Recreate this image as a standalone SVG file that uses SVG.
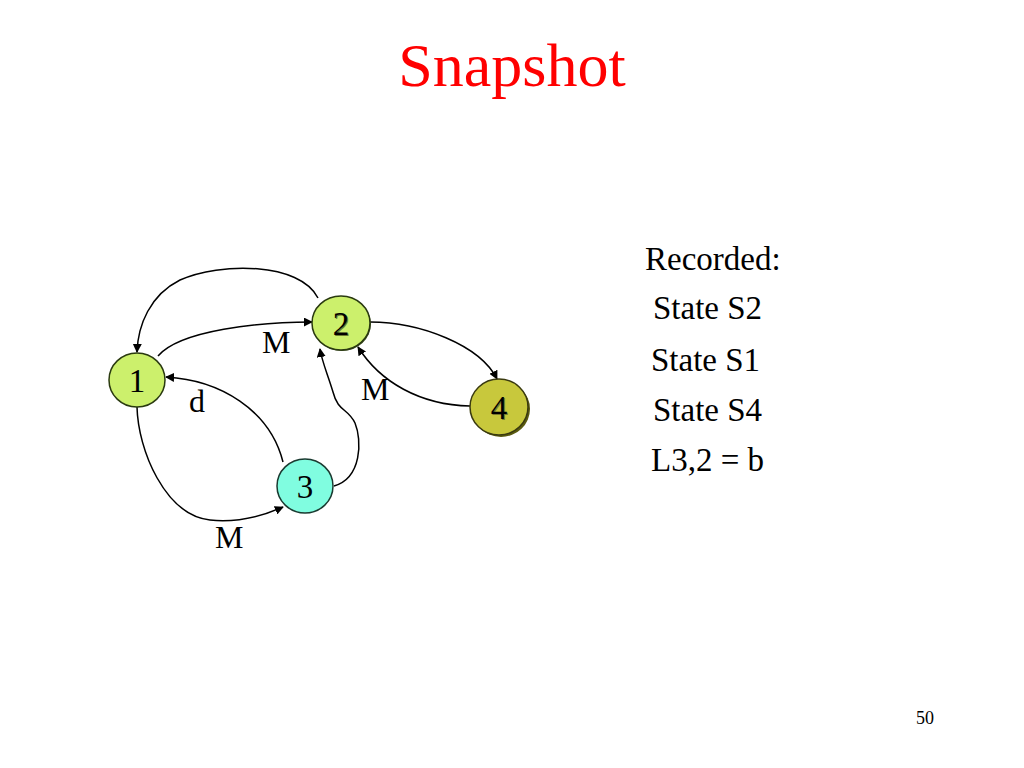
<svg xmlns="http://www.w3.org/2000/svg" width="1024" height="768" viewBox="0 0 1024 768">
<defs>
<marker id="ah" viewBox="0 0 10 10" refX="9" refY="5" markerWidth="9" markerHeight="9" markerUnits="userSpaceOnUse" orient="auto">
<path d="M0,0 L10,5 L0,10 z" fill="#000"/>
</marker>
<style>
text{font-family:"Liberation Serif","Times New Roman",serif;fill:#000}
.lbl{font-size:32px}
.side{font-size:33px}
.num{font-size:33px;text-anchor:middle}
.edge{fill:none;stroke:#000;stroke-width:1.5;marker-end:url(#ah)}
.node{stroke:#2a3a10;stroke-width:1.5}
</style>
</defs>
<rect width="1024" height="768" fill="#fff"/>
<text x="512" y="86" font-size="62" text-anchor="middle" style="fill:#ff0000">Snapshot</text>

<g id="connectors">
<path class="edge" d="M318,298 C300,262 220,262 180,280 C150,295 138,325 137,352"/>
<path class="edge" d="M158,356 C180,330 260,322 312,322"/>
<path class="edge" d="M370,322 C420,322 480,345 497,379"/>
<path class="edge" d="M470,406 C420,405 380,382 358,347"/>
<path class="edge" d="M283,462 C270,410 220,380 166,377"/>
<path class="edge" d="M334,486 C362,478 362,440 355,423 C348,408 338,412 333,392 C328,375 322,362 320,349"/>
<path class="edge" d="M137,407 C138,450 165,515 210,520 C240,523 265,515 283,507"/>
</g>

<g id="node1">
<ellipse class="node" cx="137" cy="380" rx="28" ry="27" fill="#ccf06c"/>
<text class="num" x="137" y="392">1</text>
</g>
<g id="node2">
<ellipse cx="342" cy="324" rx="29" ry="27" fill="#3a4a20"/>
<ellipse class="node" cx="341" cy="323" rx="29" ry="27" fill="#ccf06c"/>
<text class="num" x="342" y="336" style="fill:#6a7a30">2</text>
<text class="num" x="341" y="335">2</text>
</g>
<g id="node3">
<ellipse class="node" cx="305" cy="486" rx="28" ry="27" fill="#80fde0" style="stroke:#1a3a30"/>
<text class="num" x="305" y="498">3</text>
</g>
<g id="node4">
<ellipse cx="501" cy="409" rx="29" ry="28" fill="#5a5a10"/>
<ellipse class="node" cx="499" cy="407" rx="29" ry="28" fill="#c8c83c" style="stroke:#3a3a10"/>
<text class="num" x="500" y="420" style="fill:#7a7a30">4</text>
<text class="num" x="499" y="419">4</text>
</g>

<text class="lbl" x="262" y="353">M</text>
<text class="lbl" x="361" y="400">M</text>
<text class="lbl" x="189" y="412">d</text>
<text class="lbl" x="215" y="548">M</text>

<text class="side" x="645" y="270">Recorded:</text>
<text class="side" x="653" y="319">State S2</text>
<text class="side" x="651" y="371">State S1</text>
<text class="side" x="653" y="421">State S4</text>
<text class="side" x="651" y="471">L3,2 = b</text>

<text x="916" y="724" font-size="18">50</text>
</svg>
